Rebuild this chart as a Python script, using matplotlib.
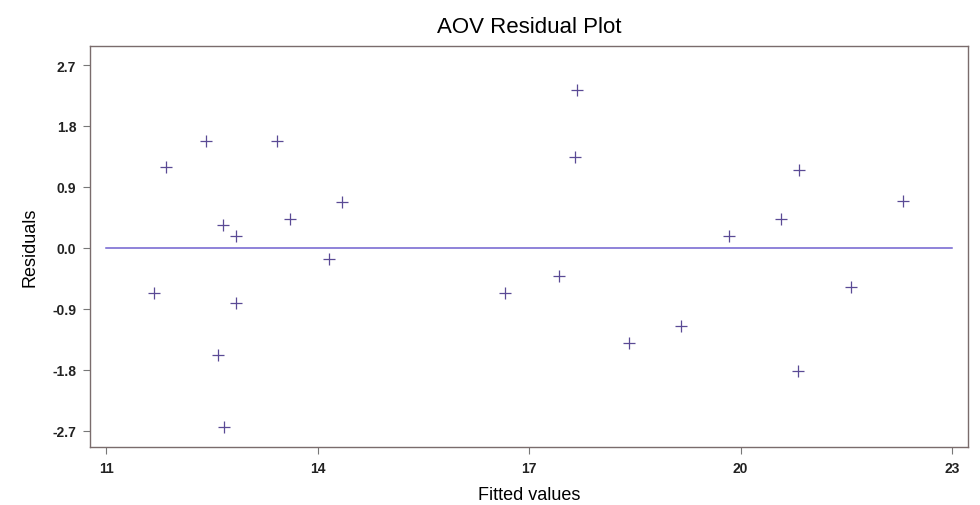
import matplotlib
matplotlib.use("Agg")
import matplotlib.pyplot as plt

plt.rcParams['font.family'] = ['Liberation Sans', 'DejaVu Sans']

# fitted values and residuals
fitted = [11.67, 11.85, 12.42, 12.58, 12.66, 12.84, 12.84, 12.67, 13.42, 13.60, 14.16, 14.34,
          16.66, 17.42, 17.68, 17.65, 18.41, 19.16, 19.83, 20.57, 20.83, 20.81, 21.57, 22.31]
resid = [-0.67, 1.19, 1.58, -1.58, 0.34, 0.18, -0.82, -2.65, 1.58, 0.42, -0.16, 0.68,
         -0.67, -0.42, 2.33, 1.34, -1.41, -1.15, 0.18, 0.43, 1.15, -1.82, -0.58, 0.69]
xticks = [11, 14, 17, 20, 23]
yticks = [-2.7, -1.8, -0.9, 0.0, 0.9, 1.8, 2.7]

fig = plt.figure(figsize=(9.8, 5.06), dpi=100)
ax = fig.add_axes([0.092, 0.115, 0.896, 0.792])

ax.plot([11, 23], [0, 0], color='#7060d0', lw=1.1)
ax.plot(fitted, resid, ls='none', marker='+', ms=9, mew=0.9, color='#5a4a95')

ax.set_xlim(10.77, 23.23)
ax.set_ylim(-2.94, 2.98)
ax.set_xticks(xticks)
ax.set_yticks(yticks)
ax.set_yticklabels(['%.1f' % v for v in yticks])
ax.tick_params(direction='out', length=5, width=0.8, color='#777777', labelsize=10, pad=5)
for lab in ax.get_xticklabels() + ax.get_yticklabels():
    lab.set_fontweight('bold')
    lab.set_color('#222222')
for s in ax.spines.values():
    s.set_color('#7a6c6c')
    s.set_linewidth(1.0)

ax.set_title('AOV Residual Plot', fontsize=16, pad=10)
ax.set_xlabel('Fitted values', fontsize=13, labelpad=8)
ax.set_ylabel('Residuals', fontsize=13, labelpad=10)

fig.savefig('out.png', dpi=100)
